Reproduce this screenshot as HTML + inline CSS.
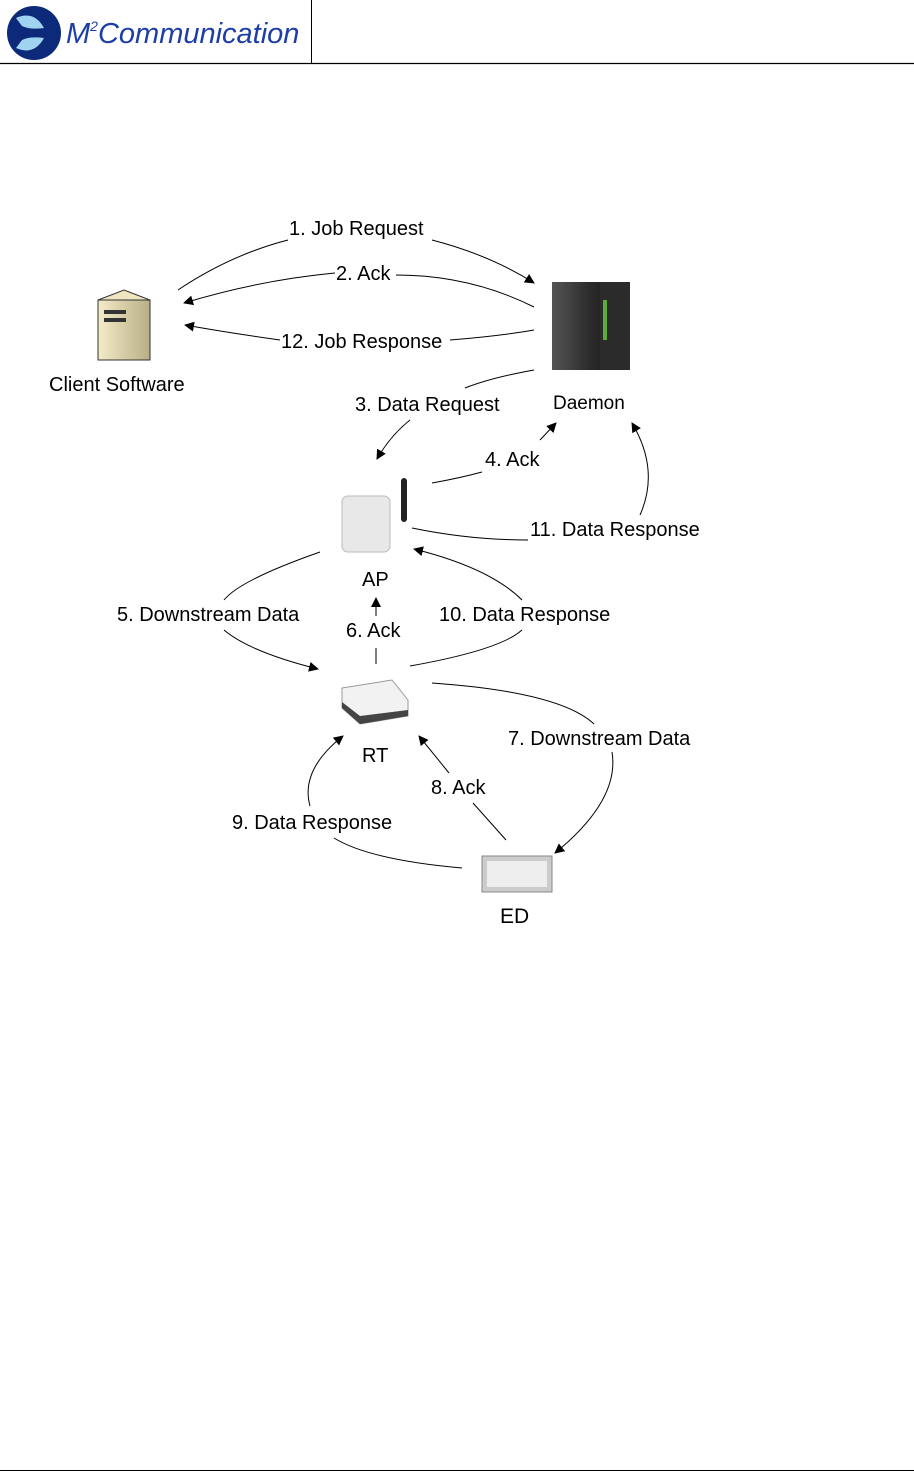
<!DOCTYPE html>
<html><head><meta charset="utf-8"><style>
body{margin:0;background:#fff;width:914px;height:1473px;overflow:hidden}
svg{display:block}
text{font-family:"Liberation Sans",sans-serif;font-size:20px;fill:#000}
</style></head><body>
<svg width="914" height="1473" viewBox="0 0 914 1473">
<defs>
<marker id="a" markerWidth="10" markerHeight="10" refX="9" refY="5" orient="auto" markerUnits="userSpaceOnUse" viewBox="0 0 10 10"><path d="M0,0 L10,5 L0,10 z" fill="#000"/></marker>
<linearGradient id="srv" x1="0" x2="1"><stop offset="0" stop-color="#555"/><stop offset=".5" stop-color="#2a2a2a"/><stop offset="1" stop-color="#111"/></linearGradient>
<linearGradient id="pc" x1="0" x2="1"><stop offset="0" stop-color="#f4ecc8"/><stop offset="1" stop-color="#b8ae86"/></linearGradient>
</defs>
<line x1="0" y1="63.5" x2="914" y2="63.5" stroke="#000" stroke-width="1.2"/>
<line x1="311.5" y1="0" x2="311.5" y2="63" stroke="#000"/>
<circle cx="34" cy="33" r="27" fill="#0d2a7a"/>
<path d="M16,18 Q34,10 44,28 Q30,30 22,26 Z" fill="#9fd3f0"/>
<path d="M16,48 Q34,56 44,38 Q30,36 22,40 Z" fill="#9fd3f0"/>
<path d="M50,22 Q58,33 50,44" stroke="#0d2a7a" stroke-width="4" fill="none"/>
<text x="66" y="43" style="font-size:29px;font-style:italic;fill:#1d3ea8">M<tspan style="font-size:14px" dy="-12">2</tspan><tspan dy="12">Communication</tspan></text>
<line x1="0" y1="1470.5" x2="914" y2="1470.5" stroke="#000"/>
<rect x="98" y="300" width="52" height="60" fill="url(#pc)" stroke="#333"/>
<path d="M98,300 L124,290 L150,300 Z" fill="#efe6c0" stroke="#333"/>
<rect x="104" y="310" width="22" height="4" fill="#333"/><rect x="104" y="318" width="22" height="4" fill="#333"/>
<text x="49" y="391">Client Software</text>
<rect x="552" y="282" width="78" height="88" fill="url(#srv)"/>
<rect x="600" y="282" width="30" height="88" fill="#2b2b2b"/>
<rect x="603" y="300" width="4" height="40" fill="#5fae3a"/>
<text x="553" y="409" style="font-size:19px">Daemon</text>
<rect x="342" y="496" width="48" height="56" rx="6" fill="#e8e8e8" stroke="#bbb"/>
<rect x="401" y="478" width="6" height="44" rx="3" fill="#222"/>
<text x="362" y="586">AP</text>
<path d="M342,688 L392,680 L408,700 L408,716 L360,724 L342,708 Z" fill="#f2f2f2" stroke="#999"/>
<path d="M342,702 L360,716 L408,710 L408,716 L360,724 L342,708Z" fill="#444"/>
<text x="362" y="762">RT</text>
<rect x="482" y="856" width="70" height="36" fill="#ccc" stroke="#888"/>
<rect x="487" y="861" width="60" height="26" fill="#eee"/>
<text x="500" y="923" style="font-size:21px">ED</text>
<g fill="none" stroke="#000" stroke-width="1">
<path d="M178,290 Q230,255 288,240"/><path d="M432,240 Q490,255 534,283" marker-end="url(#a)"/>
<path d="M534,307 Q470,275 396,275"/><path d="M335,273 Q260,280 184,303" marker-end="url(#a)"/>
<path d="M534,330 Q500,336 450,340"/><path d="M280,340 Q230,333 185,325" marker-end="url(#a)"/>
<path d="M534,370 Q490,378 465,388"/><path d="M410,420 Q390,436 377,459" marker-end="url(#a)"/>
<path d="M432,483 Q460,478 482,472"/><path d="M540,440 L556,423" marker-end="url(#a)"/>
<path d="M412,528 Q470,540 528,540"/><path d="M640,515 Q660,470 632,423" marker-end="url(#a)"/>
<path d="M320,552 Q240,580 224,600"/><path d="M224,630 Q250,652 318,669" marker-end="url(#a)"/>
<path d="M376,664 L376,648"/><path d="M376,616 L376,598" marker-end="url(#a)"/>
<path d="M410,666 Q500,650 522,630"/><path d="M522,600 Q490,568 414,549" marker-end="url(#a)"/>
<path d="M432,683 Q560,692 594,724"/><path d="M612,752 Q620,800 555,853" marker-end="url(#a)"/>
<path d="M506,840 L473,803"/><path d="M449,773 L419,736" marker-end="url(#a)"/>
<path d="M462,868 Q370,860 334,838"/><path d="M310,806 Q300,770 343,736" marker-end="url(#a)"/>
</g>
<text x="289" y="235">1. Job Request</text>
<text x="336" y="280">2. Ack</text>
<text x="281" y="348">12. Job Response</text>
<text x="355" y="411">3. Data Request</text>
<text x="485" y="466">4. Ack</text>
<text x="530" y="536">11. Data Response</text>
<text x="117" y="621">5. Downstream Data</text>
<text x="346" y="637">6. Ack</text>
<text x="439" y="621">10. Data Response</text>
<text x="508" y="745">7. Downstream Data</text>
<text x="431" y="794">8. Ack</text>
<text x="232" y="829">9. Data Response</text>
</svg>
</body></html>
